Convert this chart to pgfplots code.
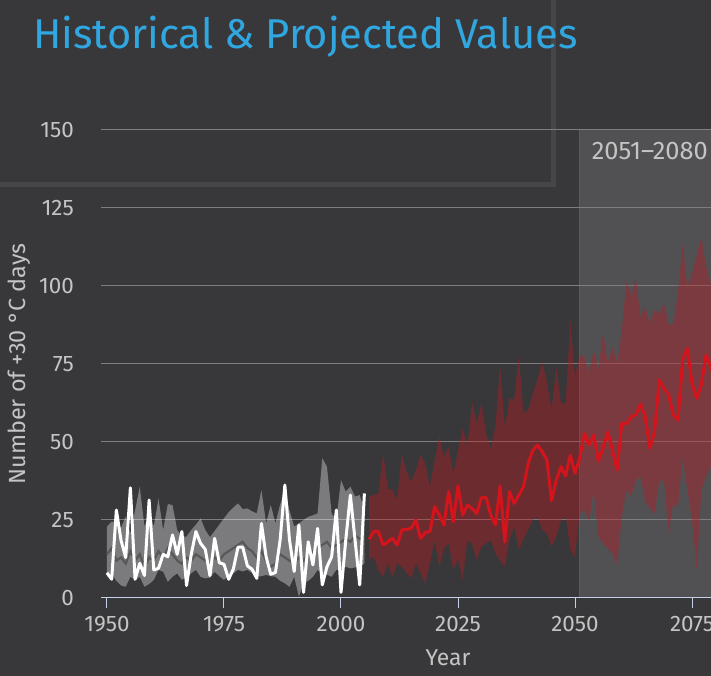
\documentclass[border=0pt]{standalone}
\usepackage{fontspec}
\setmainfont{Fira Sans}
\usepackage{pgfplots}
\usepackage{pgfplotstable}
\usepgfplotslibrary{fillbetween}
\pgfplotsset{compat=1.18}
\definecolor{bg}{HTML}{38383A}
\definecolor{framec}{HTML}{46464A}
\definecolor{titleblue}{HTML}{30A7E1}
\definecolor{gridc}{HTML}{7E7E7E}
\definecolor{axisblue}{HTML}{C4D0E6}
\definecolor{labc}{HTML}{C4C4C4}
\definecolor{redl}{HTML}{D4141C}
\definecolor{redf}{HTML}{C8141E}
\definecolor{medc}{HTML}{585858}

\pgfplotstableread{
year obs low high med
1950 8.1 6.8 22.9 14
1951 6.0 7.9 24.5 16
1952 28.2 5.5 24.2 12
1953 18.5 4.0 22.5 13
1954 13.0 3.6 26.1 11
1955 35.3 6.8 20.7 15
1956 6.0 5.8 28.0 12
1957 11.1 6.8 35.7 14
1958 7.2 3.6 22.9 10
1959 31.4 4.5 27.1 13
1960 9.0 5.8 22.9 12
1961 9.5 9.0 31.9 15
1962 14.0 8.4 21.8 13
1963 13.2 5.2 30.1 16
1964 20.2 6.8 29.8 14
1965 14.0 7.9 21.8 12
1966 21.3 5.8 19.7 11
1967 4.0 6.8 19.7 13
1968 14.0 7.9 21.8 12
1969 21.3 9.0 23.5 14
1970 17.5 6.8 25.5 13
1971 15.6 6.3 21.8 12
1972 7.2 6.5 19.5 11
1973 19.1 8.4 21.5 13
1974 11.3 7.0 23.5 12
1975 10.8 5.8 25.5 14
1976 6.0 7.0 27.5 15
1977 9.3 7.9 29.0 16
1978 16.3 9.0 30.3 17
1979 16.3 8.5 28.5 18
1980 10.3 9.0 28.7 16
1981 9.2 8.0 27.8 15
1982 6.3 6.8 27.1 13
1983 23.9 7.0 34.6 15
1984 13.2 7.4 23.9 12
1985 7.6 7.0 29.8 10
1986 8.2 6.8 23.9 11
1987 18.6 5.5 30.0 14
1988 36.2 4.7 34.6 13
1989 18.6 3.6 28.0 12
1990 8.5 6.8 22.9 11
1991 23.4 0.4 23.9 13
1992 1.8 4.7 25.0 12
1993 18.0 5.5 26.0 14
1994 10.6 6.8 26.5 15
1995 22.3 9.0 27.1 16
1996 4.2 7.9 44.8 17
1997 10.0 7.5 42.1 18
1998 13.2 6.8 27.1 16
1999 28.2 9.0 25.0 17
2000 1.8 9.5 37.8 18
2001 18.3 10.0 34.1 19
2002 33.0 9.5 35.7 18
2003 18.6 9.8 32.5 20
2004 4.2 10.0 33.0 19
2005 33.5 11.1 28.2 20
}\histdata

\pgfplotstableread{
year med low high
2006 18.8 12.2 32.5
2007 21.3 13.2 33.0
2008 21.3 9.0 33.5
2009 17.0 6.8 46.4
2010 18.0 11.1 35.1
2011 19.1 6.8 34.6
2012 17.0 11.1 31.4
2013 21.8 10.0 46.4
2014 22.0 8.0 40.5
2015 22.3 6.3 37.3
2016 25.0 11.1 41.0
2017 19.1 8.0 45.8
2018 21.0 4.7 43.2
2019 21.3 11.1 35.7
2020 29.3 18.6 44.0
2021 26.6 10.0 51.7
2022 23.4 15.9 45.3
2023 34.1 17.5 48.5
2024 24.5 9.0 40.0
2025 35.9 12.2 47.0
2026 26.6 5.8 54.4
2027 29.8 18.6 48.5
2028 28.7 17.5 62.9
2029 27.1 12.2 56.0
2030 32.2 16.5 62.4
2031 32.2 17.5 52.8
2032 26.6 18.6 48.0
2033 23.4 14.3 54.9
2034 35.9 12.0 74.7
2035 18.0 10.0 54.9
2036 34.1 18.6 64.0
2037 30.3 22.9 63.5
2038 33.0 15.4 77.9
2039 35.7 19.0 59.2
2040 43.2 22.0 60.3
2041 47.4 25.0 65.6
2042 49.0 26.1 70.0
2043 46.9 21.8 75.7
2044 44.2 20.7 69.3
2045 31.2 16.5 60.3
2046 37.8 19.5 74.1
2047 42.1 25.0 62.4
2048 39.1 26.1 62.4
2049 45.8 15.4 89.1
2050 40.0 13.2 70.9
2051 44.8 27.1 77.9
2052 52.8 28.2 77.4
2053 49.0 24.5 72.0
2054 52.2 34.6 79.5
2055 43.9 19.7 73.1
2056 48.0 17.5 85.4
2057 53.3 15.9 75.2
2058 47.4 14.3 80.6
2059 41.0 10.6 75.2
2060 56.0 26.1 85.9
2061 55.8 34.6 101.4
2062 58.1 32.5 96.6
2063 58.7 37.8 102.5
2064 62.2 38.9 90.2
2065 58.1 30.9 93.4
2066 48.0 28.7 88.0
2067 53.3 27.1 92.3
2068 69.9 37.3 91.2
2069 67.2 37.8 94.4
2070 65.1 20.7 87.5
2071 58.7 30.3 88.0
2072 57.0 29.3 97.6
2073 76.3 45.3 113.7
2074 80.0 34.6 99.8
2075 68.8 25.0 104.0
2076 64.0 9.0 110.0
2077 68.3 34.6 115.8
2078 77.9 38.9 106.2
2079 74.0 42.0 100.9
2080 70.0 40.0 98.0
}\projdata

\begin{document}
\begin{tikzpicture}
\begin{axis}[
  set layers,
  at={(101bp,78bp)}, anchor=south west,
  scale only axis, width=610bp, height=468bp,
  xmin=1948.72, xmax=2079.06, ymin=0, ymax=150,
  clip=false,
  axis x line*=bottom, axis y line*=left,
  y axis line style={draw=none},
  x axis line style={draw=axisblue, line width=1bp},
  xtick={1950,1975,2000,2025,2050,2075},
  ytick={0,25,50,75,100,125,150},
  xtick style={draw=axisblue, line width=1bp},
  ytick style={draw=none},
  tick align=outside, major tick length=10bp,
  ymajorgrids, major grid style={draw=gridc, line width=1bp},
  /pgf/number format/assume math mode=true,
  /pgf/number format/1000 sep={},
  xticklabel style={font=\fontsize{22.5}{26}\selectfont, text=labc, inner sep=0pt, anchor=north, yshift=-8bp},
  yticklabel style={font=\fontsize{22.5}{26}\selectfont, text=labc, inner sep=0pt, anchor=east, xshift=-17bp},
  xlabel={Year},
  ylabel={Number of +30 °C days},
  x label style={at={(axis description cs:0.569,0)}, anchor=base, yshift=-67bp, inner sep=0pt, font=\fontsize{23}{27}\selectfont, text=labc},
  y label style={at={(axis description cs:0,0.5)}, anchor=base, yshift=76bp, inner sep=0pt, font=\fontsize{23.5}{27}\selectfont, text=labc},
]
\begin{pgfonlayer}{axis background}
\fill[bg] ([shift={(-101bp,-78bp)}]rel axis cs:0,0) rectangle ++(711bp,676bp);
\draw[framec, line width=5bp] ([shift={(-101bp,-78bp)}]rel axis cs:0,0) ++(0bp,491bp) -- ++(553bp,0bp) -- ++(0bp,185bp);
\fill[white, opacity=0.13] (axis cs:2051,0) rectangle (axis cs:2079.06,150);
\draw[white, opacity=0.18, line width=1bp] (axis cs:2051,0) -- (axis cs:2051,150);
\end{pgfonlayer}
\coordinate (bandtl) at (axis cs:2051,150);
% historical band
\addplot[name path=hh, draw=none, forget plot] table[x=year, y=high] {\histdata};
\addplot[name path=hl, draw=none, forget plot] table[x=year, y=low] {\histdata};
\addplot[fill=white, fill opacity=0.34, draw=none, forget plot] fill between[of=hh and hl];
\addplot[medc, line width=2.2bp] table[x=year, y=med] {\histdata};
% projected band
\addplot[name path=ph, draw=none, forget plot] table[x=year, y=high] {\projdata};
\addplot[name path=pl, draw=none, forget plot] table[x=year, y=low] {\projdata};
\addplot[fill=redf, fill opacity=0.36, draw=none, forget plot] fill between[of=ph and pl];
\addplot[redl, line width=3bp, line join=round] table[x=year, y=med] {\projdata};
\addplot[white, line width=3bp, line join=round] table[x=year, y=obs] {\histdata};
\end{axis}
\node[anchor=base west, inner sep=0pt, text=titleblue, font=\fontsize{41.8}{50}\selectfont] at (33bp,627bp) {Historical \& Projected Values};
\node[anchor=north west, inner sep=0pt, text=labc, font=\fontsize{25.5}{30}\selectfont, xshift=12bp, yshift=-12bp] at (bandtl) {2051--2080};
\pgfresetboundingbox
\useasboundingbox (0bp,0bp) rectangle (711bp,676bp);
\end{tikzpicture}
\end{document}
